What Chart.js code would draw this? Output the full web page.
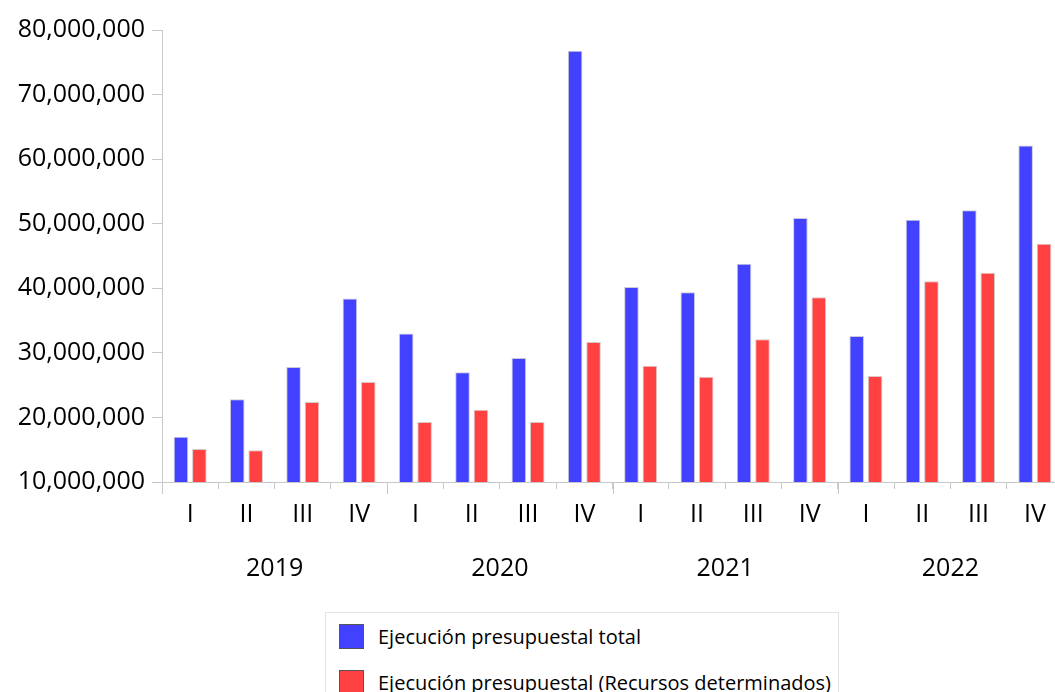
<!DOCTYPE html>
<html>
<head>
<meta charset="utf-8">
<script src="https://cdn.jsdelivr.net/npm/chart.js@4/dist/chart.umd.min.js"></script>
<style>
    body { margin: 0; background: #fff; font-family: 'Open Sans', sans-serif; }
    #wrap { position: absolute; left: 0; top: 0; width: 1055px; height: 600px; overflow: hidden; }
    #inner { position: relative; width: 1075px; height: 600px; }
    #legend { position: absolute; left: 325px; top: 612px; width: 514px; height: 100px;
              border: 1px solid #e3e3e3; box-sizing: border-box; }
    .item { position: absolute; left: 13px; height: 26px; display: flex; align-items: center; }
    .box { width: 25px; height: 25px; border: 1px solid #555; box-sizing: border-box; margin-right: 14px; }
    .txt { font-size: 20px; color: #000; white-space: nowrap; }
</style>
</head>
<body>
<div id="wrap"><div id="inner"><canvas id="chart"></canvas></div></div>
<div id="legend"></div>
<script>
// Datos (valores en unidades)
const quarters = ['I', 'II', 'III', 'IV', 'I', 'II', 'III', 'IV', 'I', 'II', 'III', 'IV', 'I', 'II', 'III', 'IV'];
const years = ['2019', '2020', '2021', '2022'];
const totalExec = [17.0, 22.8, 27.8, 38.4, 33.0, 27.0, 29.2, 76.8, 40.2, 39.4, 43.8, 50.9, 32.6, 50.6, 52.1, 62.1].map(v => v * 1e6);
const determinedExec = [15.1, 14.9, 22.4, 25.5, 19.3, 21.2, 19.3, 31.7, 28.0, 26.3, 32.1, 38.6, 26.4, 41.1, 42.4, 46.9].map(v => v * 1e6);
const yTicks = [10e6, 20e6, 30e6, 40e6, 50e6, 60e6, 70e6, 80e6];

const axisColor = '#c8c8c8';

// Marcas más largas en el cambio de año
const yearTicks = {
    id: 'yearTicks',
    afterDraw(chart) {
        const xs = chart.scales.x;
        const step = xs.getPixelForValue(1) - xs.getPixelForValue(0);
        const start = xs.getPixelForValue(0) - step / 2;
        const ctx = chart.ctx;
        ctx.save();
        ctx.strokeStyle = axisColor;
        ctx.lineWidth = 1;
        for (let i = 0; i <= quarters.length; i += 4) {
            const px = Math.round(start + i * step) + 0.5;
            ctx.beginPath();
            ctx.moveTo(px, xs.top);
            ctx.lineTo(px, xs.top + 12);
            ctx.stroke();
        }
        ctx.restore();
    }
};

const chart = new Chart(document.getElementById('chart'), {
    type: 'bar',
    data: {
        labels: quarters,
        datasets: [
            {
                label: 'Ejecución presupuestal total',
                data: totalExec,
                backgroundColor: '#4141ff',
                borderColor: '#c9c9d9',
                borderWidth: 1,
                barPercentage: 0.79,
                categoryPercentage: 0.654
            },
            {
                label: 'Ejecución presupuestal (Recursos determinados)',
                data: determinedExec,
                backgroundColor: '#ff4141',
                borderColor: '#d9c9c9',
                borderWidth: 1,
                barPercentage: 0.79,
                categoryPercentage: 0.654
            }
        ]
    },
    options: {
        responsive: true,
        maintainAspectRatio: false,
        animation: false,
        layout: {
            padding: { left: 15, top: 30, right: 12, bottom: 8 }
        },
        plugins: {
            legend: { display: false },
            tooltip: { enabled: false }
        },
        scales: {
            x: {
                weight: 0,
                grid: {
                    offset: true,
                    drawOnChartArea: false,
                    color: axisColor,
                    tickLength: 7
                },
                border: { color: axisColor },
                ticks: {
                    color: '#000',
                    padding: 11,
                    font: { family: 'Open Sans', size: 25 }
                },
                afterFit: function(scale) { scale.height = 50; }
            },
            x2: {
                type: 'category',
                position: 'bottom',
                weight: 1,
                labels: years,
                offset: true,
                grid: { display: false, drawTicks: false },
                border: { display: false },
                ticks: {
                    color: '#000',
                    padding: 22,
                    font: { family: 'Open Sans', size: 25 }
                },
                afterFit: function(scale) { scale.height = 60; }
            },
            y: {
                min: yTicks[0],
                max: yTicks[yTicks.length - 1],
                grid: {
                    drawOnChartArea: false,
                    color: axisColor,
                    tickLength: 10
                },
                border: { color: axisColor },
                afterBuildTicks: function(scale) {
                    scale.ticks = yTicks.map(v => ({ value: v }));
                },
                ticks: {
                    color: '#000',
                    padding: 7,
                    font: { family: 'Open Sans', size: 25 },
                    callback: function(value) {
                        return value.toLocaleString('en-US');
                    }
                },
                afterFit: function(scale) { scale.width = 147; }
            }
        }
    },
    plugins: [yearTicks]
});

// Leyenda en HTML, en columna como en el original
const legendEl = document.getElementById('legend');
chart.data.datasets.forEach(function(ds, i) {
    const item = document.createElement('div');
    item.className = 'item';
    item.style.top = (10 + i * 46) + 'px';
    item.innerHTML = '<span class="box" style="background:' + ds.backgroundColor + '"></span>' +
                     '<span class="txt">' + ds.label + '</span>';
    legendEl.appendChild(item);
});
</script>
</body>
</html>
